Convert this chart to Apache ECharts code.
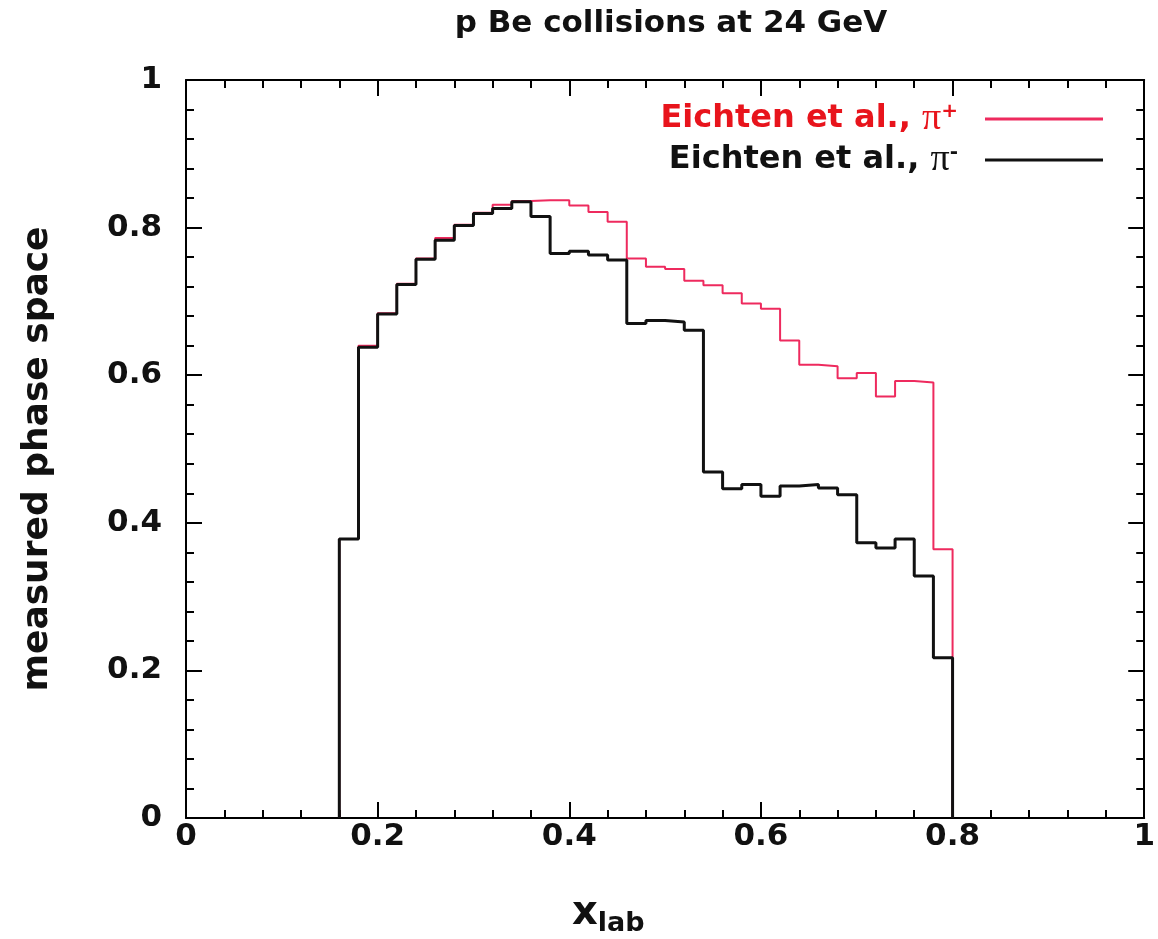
<!DOCTYPE html>
<html>
<head>
<meta charset="utf-8">
<script src="https://cdn.jsdelivr.net/npm/echarts@6/dist/echarts.min.js"></script>
<style>html,body{margin:0;padding:0;background:#fff}#c{width:1158px;height:939px}</style>
</head>
<body>
<div id="c"></div>
<script>
// bin left edges (width 0.02), last edge closes the histogram
var binEdges = [0.16,0.18,0.20,0.22,0.24,0.26,0.28,0.30,0.32,0.34,0.36,0.38,0.40,0.42,0.44,0.46,
                0.48,0.50,0.52,0.54,0.56,0.58,0.60,0.62,0.64,0.66,0.68,0.70,0.72,0.74,0.76,0.78,0.80];
var piPlus  = [0.378,0.640,0.684,0.724,0.758,0.786,0.804,0.820,0.831,0.836,0.837,0.837,0.830,0.821,0.808,0.758,
               0.747,0.744,0.728,0.722,0.711,0.697,0.690,0.647,0.614,0.612,0.596,0.603,0.571,0.592,0.590,0.364];
var piMinus = [0.378,0.638,0.683,0.723,0.757,0.783,0.803,0.819,0.826,0.835,0.815,0.765,0.768,0.763,0.756,0.670,
               0.674,0.672,0.661,0.469,0.446,0.452,0.436,0.450,0.452,0.447,0.438,0.373,0.366,0.378,0.328,0.217];
var xTicks = [0,0.2,0.4,0.6,0.8,1];
var yTicks = [0,0.2,0.4,0.6,0.8,1];
var seriesNames = ['Eichten et al., π+', 'Eichten et al., π-'];

function histPoints(vals){
  var pts = [[binEdges[0], 0]];
  for (var i = 0; i < vals.length; i++) pts.push([binEdges[i], vals[i]]);
  pts.push([binEdges[binEdges.length-1], 0]);
  return pts;
}

var FONT = 'DejaVu Sans';
var axisCommon = {
  min: 0, max: 1, interval: 0.2, type: 'value',
  axisLine: {show: true, onZero: false, lineStyle: {color: '#000', width: 2}},
  axisTick: {show: true, inside: true, length: 16, lineStyle: {color: '#000', width: 2}},
  minorTick: {show: true, splitNumber: 5, length: 8, lineStyle: {color: '#000', width: 2}},
  splitLine: {show: false}
};
function ax(extra){ return Object.assign({}, JSON.parse(JSON.stringify(axisCommon)), extra); }

var chart = echarts.init(document.getElementById('c'));
chart.setOption({
  backgroundColor: '#fff',
  animation: false,
  title: {
    text: 'p Be collisions at 24 GeV',
    left: 666, top: 3, textAlign: 'center',
    textStyle: {fontFamily: FONT, fontWeight: 'bold', fontSize: 31, color: '#111'}
  },
  grid: {left: 186, right: 10, top: 80, bottom: 121},
  xAxis: [
    ax({position: 'bottom',
        axisLabel: {show: true, margin: 3, fontFamily: FONT, fontWeight: 'bold', fontSize: 31, color: '#111',
                    formatter: function(v){ return xTicks.indexOf(+v.toFixed(2)) >= 0 ? String(+v.toFixed(2)) : ''; }}}),
    ax({position: 'top', axisLabel: {show: false}})
  ],
  yAxis: [
    ax({position: 'left',
        axisLabel: {show: true, margin: 24, fontFamily: FONT, fontWeight: 'bold', fontSize: 31, color: '#111',
                    formatter: function(v){ return yTicks.indexOf(+v.toFixed(2)) >= 0 ? String(+v.toFixed(2)) : ''; }}}),
    ax({position: 'right', axisLabel: {show: false}})
  ],
  legend: {
    orient: 'vertical', right: 50, top: 95, align: 'right',
    itemWidth: 118, itemHeight: 3, itemGap: 3,
    icon: 'rect',
    data: [
      {name: seriesNames[0], textStyle: {color: '#e8141c'}},
      {name: seriesNames[1], textStyle: {color: '#111'}}
    ],
    formatter: function(name){
      var sign = name.slice(-1);
      return '{t|' + name.slice(0, name.length - 3) + ' }{pi|π}{sup|' + sign + '}';
    },
    textStyle: {
      fontFamily: FONT, fontWeight: 'bold', fontSize: 32, padding: [0, 22, 0, 0],
      rich: {
        t: {fontFamily: FONT, fontWeight: 'bold', fontSize: 32, lineHeight: 34},
        pi: {fontFamily: 'Liberation Serif', fontWeight: 'normal', fontSize: 38, lineHeight: 34},
        sup: {fontFamily: FONT, fontWeight: 'bold', fontSize: 20, lineHeight: 18, verticalAlign: 'top'}
      }
    }
  },
  graphic: [
    {type: 'text', x: 38, y: 459, rotation: Math.PI/2,
     style: {text: 'measured phase space', fontFamily: FONT, fontWeight: 'bold', fontSize: 36, fill: '#111',
             textAlign: 'center', textVerticalAlign: 'middle'}},
    {type: 'text', x: 572, y: 914,
     style: {text: '{x|x}{s|lab}', fill: '#111',
             rich: {x: {fontFamily: FONT, fontWeight: 'bold', fontSize: 40, fill: '#111'},
                    s: {fontFamily: FONT, fontWeight: 'bold', fontSize: 27, fill: '#111', padding: [20, 0, 0, 0]}},
             textVerticalAlign: 'middle'}}
  ],
  series: [
    {name: seriesNames[0], type: 'line', step: 'end', symbol: 'none', xAxisIndex: 0, yAxisIndex: 0,
     lineStyle: {color: '#ee2a5e', width: 2}, itemStyle: {color: '#ee2a5e'},
     data: histPoints(piPlus), z: 2},
    {name: seriesNames[1], type: 'line', step: 'end', symbol: 'none', xAxisIndex: 0, yAxisIndex: 0,
     lineStyle: {color: '#111', width: 3}, itemStyle: {color: '#111'},
     data: histPoints(piMinus), z: 3}
  ]
});
</script>
</body>
</html>
